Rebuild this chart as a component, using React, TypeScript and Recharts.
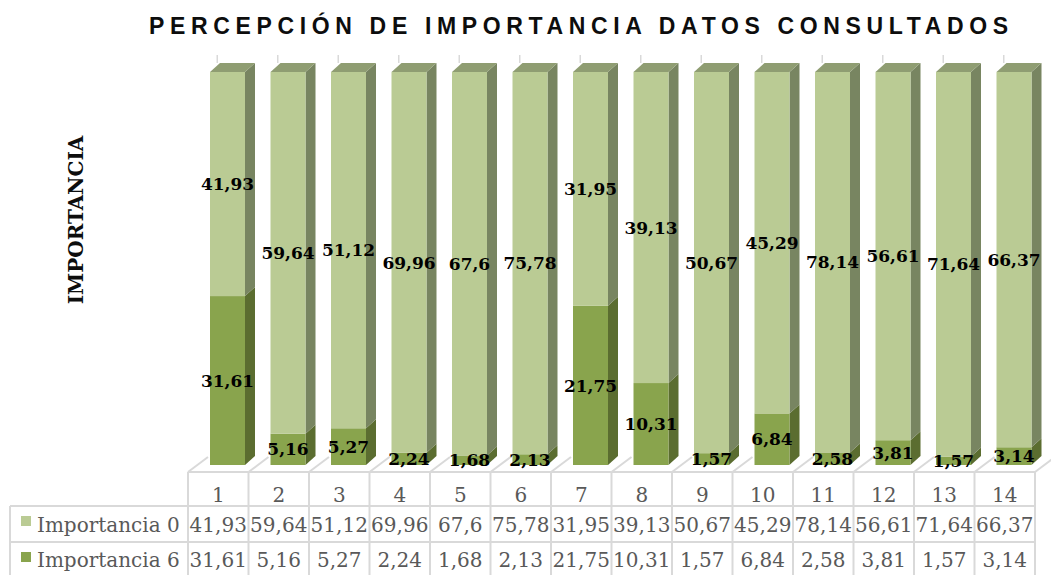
import React from 'react';
import { BarChart, Bar, XAxis, YAxis, LabelList } from 'recharts';

// ---- data ----
const categories = ['1', '2', '3', '4', '5', '6', '7', '8', '9', '10', '11', '12', '13', '14'];
const importancia0 = [41.93, 59.64, 51.12, 69.96, 67.6, 75.78, 31.95, 39.13, 50.67, 45.29, 78.14, 56.61, 71.64, 66.37];
const importancia6 = [31.61, 5.16, 5.27, 2.24, 1.68, 2.13, 21.75, 10.31, 1.57, 6.84, 2.58, 3.81, 1.57, 3.14];
const seriesNames = ['Importancia 0', 'Importancia 6'];
const chartTitle = 'PERCEPCIÓN DE IMPORTANCIA DATOS CONSULTADOS';
const yAxisTitle = 'IMPORTANCIA';

const data = categories.map((c, i) => ({ cat: c, imp0: importancia0[i], imp6: importancia6[i] }));

// ---- layout / style ----
const W = 1051;
const H = 575;
const PLOT_LEFT = 188;
const PLOT_RIGHT = 1035;
const PLOT_TOP = 72;
const PLOT_BOTTOM = 465;
const BAND = (PLOT_RIGHT - PLOT_LEFT) / categories.length;
const DX = 10;
const DY = 9;
const BAR_SHIFT = 9;
const FLOOR_DX = 20;
const FLOOR_DY = 15;
const TABLE_TOP = 472;
const ROW1 = 506;
const ROW2 = 542;
const ROW3 = 578;
const LEGEND_LEFT = 10;
const GRID = '#D9D9D9';
const TXT = '#595959';
const SERIF = '"DejaVu Serif", serif';

const colors = {
  light: { front: '#BACB94', side: '#788561', top: '#8F9D72' },
  dark: { front: '#89A44D', side: '#5B6D30', top: '#6E883B' },
};

const fmt = (v: number) => String(v).replace('.', ',');

const Bar3D = (props: any) => {
  const { x, y, width, height, pal, showTop } = props;
  if (x == null || y == null || !width) return null;
  const fx = x + BAR_SHIFT;
  const w = width;
  const h = height;
  return (
    <g>
      <polygon
        points={`${fx + w},${y} ${fx + w + DX},${y - DY} ${fx + w + DX},${y + h - DY} ${fx + w},${y + h}`}
        fill={pal.side}
      />
      {showTop && (
        <polygon points={`${fx},${y} ${fx + DX},${y - DY} ${fx + w + DX},${y - DY} ${fx + w},${y}`} fill={pal.top} />
      )}
      <rect x={fx} y={y} width={w} height={h} fill={pal.front} />
    </g>
  );
};

const renderLabel = (p: any) => {
  const vb = p.viewBox ?? p;
  const x = p.x ?? vb.x;
  const y = p.y ?? vb.y;
  const width = p.width ?? vb.width;
  const height = p.height ?? vb.height;
  if (x == null || p.value == null) return null;
  return (
    <text
      x={x + width / 2 + BAR_SHIFT}
      y={y + height / 2}
      dy="0.36em"
      textAnchor="middle"
      fontFamily={SERIF}
      fontWeight="bold"
      fontSize={17}
      fill="#000"
    >
      {fmt(p.value)}
    </text>
  );
};

const TableTick = (props: any) => {
  const { x, payload } = props;
  const i = categories.indexOf(String(payload.value));
  const n = categories.length;
  const left = x - BAND / 2;
  const right = x + BAND / 2;
  const ln = { stroke: GRID, strokeWidth: 2 };
  const txt = { fontFamily: SERIF, fontSize: 20, fill: TXT, textAnchor: 'middle' as const };
  return (
    <g>
      <line x1={x - 1} y1={55} x2={x - 1} y2={63} stroke={GRID} strokeWidth={1.5} />
      <line x1={left} y1={TABLE_TOP} x2={left + FLOOR_DX} y2={TABLE_TOP - FLOOR_DY} {...ln} />
      {i === n - 1 && <line x1={right} y1={TABLE_TOP} x2={right + FLOOR_DX} y2={TABLE_TOP - FLOOR_DY} {...ln} />}
      <line x1={left} y1={TABLE_TOP} x2={right} y2={TABLE_TOP} {...ln} />
      <line x1={left} y1={ROW1} x2={right} y2={ROW1} {...ln} />
      <line x1={left} y1={ROW2} x2={right} y2={ROW2} {...ln} />
      <line x1={left} y1={TABLE_TOP} x2={left} y2={ROW3} {...ln} />
      {i === n - 1 && <line x1={right} y1={TABLE_TOP} x2={right} y2={ROW3} {...ln} />}
      <text x={x} y={502} {...txt}>{payload.value}</text>
      <text x={x} y={532} {...txt}>{fmt(importancia0[i])}</text>
      <text x={x} y={567} {...txt}>{fmt(importancia6[i])}</text>
      {i === 0 && (
        <g>
          <line x1={LEGEND_LEFT} y1={ROW1} x2={left} y2={ROW1} {...ln} />
          <line x1={LEGEND_LEFT} y1={ROW2} x2={left} y2={ROW2} {...ln} />
          <line x1={LEGEND_LEFT} y1={ROW1} x2={LEGEND_LEFT} y2={ROW3} {...ln} />
          <rect x={21} y={516} width={10} height={10} fill={colors.light.front} />
          <rect x={21} y={552} width={10} height={10} fill={colors.dark.front} />
          <text x={37} y={532} fontFamily={SERIF} fontSize={20} fill={TXT}>{seriesNames[0]}</text>
          <text x={37} y={567} fontFamily={SERIF} fontSize={20} fill={TXT}>{seriesNames[1]}</text>
        </g>
      )}
    </g>
  );
};

export default function App() {
  return (
    <div style={{ position: 'absolute', left: 0, top: 0, width: W, height: H, background: '#fff' }}>
      <BarChart
        width={W}
        height={H}
        data={data}
        stackOffset="expand"
        barSize={35}
        margin={{ top: PLOT_TOP, left: PLOT_LEFT, right: W - PLOT_RIGHT, bottom: 0 }}
      >
        <YAxis hide domain={[0, 1]} />
        <XAxis
          dataKey="cat"
          height={H - PLOT_BOTTOM}
          axisLine={false}
          tickLine={false}
          interval={0}
          tick={(p: any) => <TableTick {...p} />}
        />
        <Bar
          dataKey="imp6"
          name={seriesNames[1]}
          stackId="s"
          fill={colors.dark.front}
          isAnimationActive={false}
          shape={(p: any) => <Bar3D {...p} pal={colors.dark} showTop={false} />}
        >
          <LabelList dataKey="imp6" content={renderLabel} />
        </Bar>
        <Bar
          dataKey="imp0"
          name={seriesNames[0]}
          stackId="s"
          fill={colors.light.front}
          isAnimationActive={false}
          shape={(p: any) => <Bar3D {...p} pal={colors.light} showTop={true} />}
        >
          <LabelList dataKey="imp0" content={renderLabel} />
        </Bar>
      </BarChart>
      <svg width={W} height={H} style={{ position: 'absolute', left: 0, top: 0, pointerEvents: 'none' }}>
        <text
          x={149}
          y={34}
          fontFamily='"Liberation Sans", Arial, sans-serif'
          fontWeight="bold"
          fontSize={23}
          letterSpacing={5.65}
          fill="#0D0D0D"
        >
          {chartTitle}
        </text>
        <text
          x={83}
          y={220}
          transform="rotate(-90, 83, 220)"
          textAnchor="middle"
          fontFamily={SERIF}
          fontWeight="bold"
          fontSize={20}
          fill="#0D0D0D"
        >
          {yAxisTitle}
        </text>
      </svg>
    </div>
  );
}
